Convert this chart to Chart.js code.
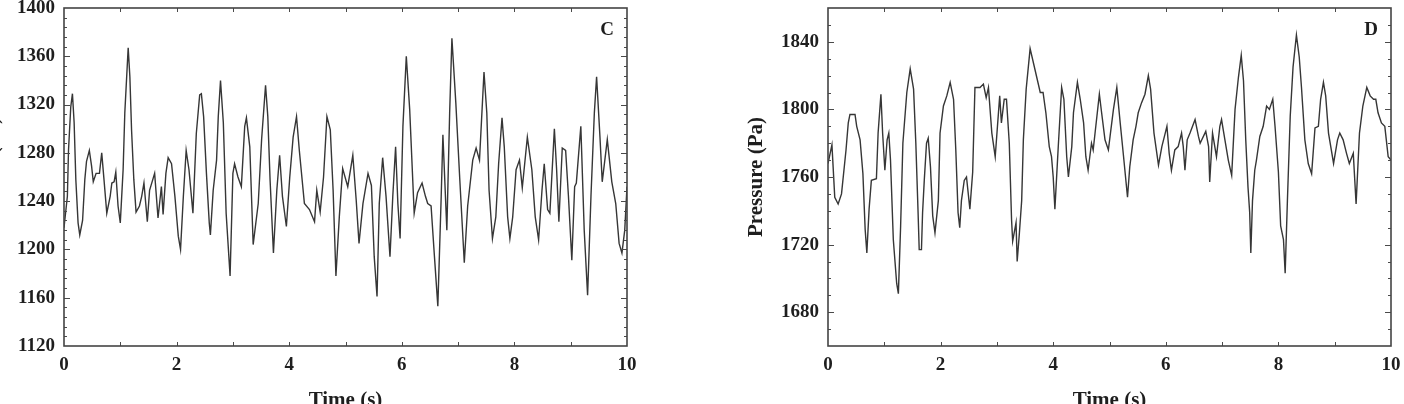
<!DOCTYPE html>
<html>
<head>
<meta charset="utf-8">
<script src="https://cdn.jsdelivr.net/npm/chart.js@4.4.1/dist/chart.umd.min.js"></script>
<style>
  html, body { margin: 0; padding: 0; background: #fff; overflow: hidden; }
  body { width: 1404px; height: 404px; position: relative; }
  .panel { position: absolute; top: 0; width: 702px; height: 404px; }
  #boxC { left: -62px; }
  #boxD { left: 702px; }
</style>
</head>
<body>
<div class="panel" id="boxC"><canvas id="chartC" width="702" height="404"></canvas></div>
<div class="panel" id="boxD"><canvas id="chartD" width="702" height="404"></canvas></div>
<script>
// panel C
const timesC = [0, 0.06, 0.08, 0.12, 0.15, 0.18, 0.21, 0.25, 0.28, 0.33,
  0.37, 0.40, 0.45, 0.49, 0.52, 0.57, 0.63, 0.67, 0.71, 0.76,
  0.82, 0.85, 0.89, 0.92, 0.96, 1.00, 1.05, 1.08, 1.14, 1.17,
  1.20, 1.24, 1.28, 1.34, 1.38, 1.42, 1.48, 1.52, 1.61, 1.67,
  1.73, 1.76, 1.81, 1.85, 1.91, 1.97, 2.03, 2.07, 2.12, 2.17,
  2.22, 2.29, 2.35, 2.41, 2.44, 2.48, 2.53, 2.58, 2.60, 2.65,
  2.71, 2.74, 2.78, 2.83, 2.88, 2.95, 3.00, 3.03, 3.09, 3.15,
  3.21, 3.24, 3.30, 3.36, 3.45, 3.51, 3.58, 3.62, 3.66, 3.72,
  3.78, 3.83, 3.88, 3.95, 4.01, 4.07, 4.13, 4.18, 4.27, 4.36,
  4.45, 4.49, 4.55, 4.61, 4.67, 4.73, 4.78, 4.83, 4.89, 4.95,
  5.04, 5.13, 5.19, 5.24, 5.31, 5.40, 5.46, 5.51, 5.56, 5.60,
  5.66, 5.72, 5.79, 5.84, 5.89, 5.93, 5.97, 6.02, 6.08, 6.14,
  6.22, 6.28, 6.36, 6.42, 6.46, 6.52, 6.58, 6.64, 6.70, 6.73,
  6.80, 6.85, 6.89, 6.96, 7.03, 7.11, 7.17, 7.26, 7.32, 7.38,
  7.46, 7.51, 7.55, 7.61, 7.67, 7.72, 7.78, 7.82, 7.88, 7.92,
  7.97, 8.03, 8.09, 8.14, 8.23, 8.31, 8.37, 8.43, 8.49, 8.53,
  8.59, 8.63, 8.71, 8.75, 8.79, 8.85, 8.91, 8.96, 9.02, 9.07,
  9.10, 9.18, 9.24, 9.30, 9.36, 9.42, 9.46, 9.52, 9.56, 9.65,
  9.73, 9.80, 9.86, 9.91, 9.96, 10.0]
const valuesC = [1218, 1244, 1282, 1318, 1329, 1305, 1258, 1222, 1212, 1224,
  1258, 1273, 1282, 1269, 1256, 1263, 1263, 1280, 1258, 1230,
  1244, 1255, 1256, 1264, 1236, 1222, 1266, 1313, 1367, 1343,
  1299, 1258, 1231, 1236, 1244, 1255, 1223, 1249, 1263, 1226,
  1252, 1229, 1263, 1276, 1271, 1244, 1211, 1200, 1244, 1282,
  1266, 1230, 1296, 1328, 1329, 1310, 1263, 1222, 1212, 1249,
  1274, 1310, 1340, 1305, 1230, 1178, 1263, 1271, 1260, 1252,
  1302, 1309, 1285, 1204, 1238, 1291, 1336, 1310, 1258, 1197,
  1249, 1278, 1244, 1219, 1260, 1293, 1310, 1282, 1238, 1233,
  1223, 1249, 1231, 1260, 1310, 1299, 1249, 1178, 1227, 1267,
  1252, 1278, 1241, 1205, 1238, 1263, 1253, 1194, 1161, 1238,
  1276, 1244, 1194, 1244, 1285, 1238, 1209, 1302, 1360, 1316,
  1230, 1247, 1255, 1244, 1238, 1236, 1194, 1153, 1244, 1295,
  1216, 1313, 1375, 1321, 1258, 1189, 1236, 1274, 1284, 1274,
  1347, 1313, 1249, 1209, 1227, 1271, 1309, 1285, 1227, 1209,
  1227, 1266, 1274, 1251, 1293, 1266, 1227, 1208, 1249, 1271,
  1233, 1230, 1300, 1266, 1223, 1284, 1282, 1244, 1191, 1252,
  1255, 1302, 1216, 1162, 1244, 1313, 1343, 1293, 1256, 1291,
  1256, 1238, 1205, 1197, 1216, 1252]

// panel D
const timesD = [0, 0.07, 0.12, 0.18, 0.24, 0.32, 0.36, 0.39, 0.48, 0.51,
  0.57, 0.62, 0.66, 0.69, 0.73, 0.77, 0.86, 0.89, 0.94, 0.97,
  1.01, 1.05, 1.08, 1.11, 1.16, 1.22, 1.25, 1.29, 1.33, 1.40,
  1.46, 1.52, 1.56, 1.60, 1.62, 1.66, 1.68, 1.71, 1.75, 1.78,
  1.82, 1.86, 1.90, 1.96, 1.99, 2.05, 2.11, 2.17, 2.23, 2.27,
  2.31, 2.34, 2.37, 2.42, 2.46, 2.52, 2.57, 2.61, 2.70, 2.76,
  2.81, 2.85, 2.91, 2.97, 3.01, 3.05, 3.08, 3.13, 3.17, 3.22,
  3.26, 3.28, 3.34, 3.36, 3.40, 3.44, 3.47, 3.52, 3.59, 3.68,
  3.77, 3.82, 3.87, 3.93, 3.97, 4.00, 4.03, 4.09, 4.15, 4.19,
  4.24, 4.27, 4.33, 4.36, 4.43, 4.48, 4.54, 4.58, 4.62, 4.68,
  4.71, 4.77, 4.82, 4.86, 4.92, 4.98, 5.01, 5.07, 5.13, 5.19,
  5.25, 5.32, 5.36, 5.42, 5.47, 5.51, 5.57, 5.63, 5.69, 5.73,
  5.79, 5.87, 5.93, 5.99, 6.02, 6.06, 6.10, 6.16, 6.22, 6.28,
  6.31, 6.34, 6.38, 6.43, 6.52, 6.58, 6.61, 6.71, 6.76, 6.78,
  6.83, 6.90, 6.96, 6.99, 7.05, 7.11, 7.17, 7.23, 7.29, 7.34,
  7.38, 7.42, 7.46, 7.49, 7.51, 7.54, 7.58, 7.61, 7.67, 7.73,
  7.79, 7.84, 7.90, 7.94, 8.00, 8.04, 8.09, 8.12, 8.16, 8.21,
  8.26, 8.32, 8.37, 8.41, 8.47, 8.53, 8.59, 8.65, 8.71, 8.75,
  8.80, 8.84, 8.89, 8.98, 9.05, 9.09, 9.15, 9.21, 9.26, 9.33,
  9.38, 9.44, 9.50, 9.57, 9.63, 9.69, 9.73, 9.77, 9.83, 9.89,
  9.95, 10.0]
const valuesD = [1768, 1779, 1748, 1744, 1750, 1776, 1792, 1797, 1797, 1790,
  1782, 1762, 1729, 1715, 1741, 1758, 1759, 1786, 1809, 1786,
  1764, 1782, 1786, 1770, 1723, 1697, 1691, 1731, 1780, 1810,
  1824, 1812, 1780, 1739, 1717, 1717, 1739, 1758, 1780, 1783,
  1766, 1737, 1727, 1746, 1786, 1802, 1808, 1816, 1806, 1776,
  1739, 1730, 1746, 1758, 1760, 1741, 1763, 1813, 1813, 1815,
  1807, 1813, 1786, 1772, 1790, 1808, 1792, 1806, 1806, 1780,
  1735, 1722, 1733, 1710, 1727, 1746, 1782, 1812, 1836, 1823,
  1810, 1810, 1798, 1778, 1772, 1760, 1741, 1778, 1813, 1806,
  1772, 1760, 1778, 1798, 1816, 1806, 1792, 1772, 1764, 1780,
  1776, 1794, 1809, 1798, 1782, 1776, 1784, 1800, 1813, 1792,
  1772, 1748, 1766, 1782, 1790, 1798, 1804, 1809, 1820, 1812,
  1786, 1767, 1778, 1786, 1790, 1774, 1764, 1776, 1778, 1786,
  1778, 1764, 1782, 1786, 1794, 1784, 1780, 1787, 1778, 1757,
  1786, 1772, 1790, 1794, 1782, 1770, 1761, 1800, 1819, 1832,
  1817, 1782, 1754, 1739, 1715, 1746, 1764, 1770, 1784, 1790,
  1802, 1800, 1806, 1790, 1763, 1731, 1723, 1703, 1746, 1796,
  1825, 1844, 1831, 1813, 1782, 1768, 1762, 1789, 1790, 1806,
  1816, 1808, 1786, 1768, 1782, 1786, 1782, 1774, 1768, 1774,
  1744, 1786, 1802, 1813, 1808, 1806, 1806, 1798, 1792, 1790,
  1772, 1770]

// tick labels
const xTicks = [0, 2, 4, 6, 8, 10]
const yTicksC = [1120, 1160, 1200, 1240, 1280, 1320, 1360, 1400]
const yTicksD = [1680, 1720, 1760, 1800, 1840]

const serif = 'Liberation Serif, Times New Roman, serif'
const ink = '#1e1e1e'

// box round the plot + inward tick marks (like the original figure)
const framePlugin = {
  id: 'frame',
  afterDatasetsDraw(chart, args, opts) {
    const ctx = chart.ctx
    const a = chart.chartArea
    const xs = chart.scales.x
    const ys = chart.scales.y
    ctx.save()
    ctx.strokeStyle = '#4a4a4a'
    ctx.lineWidth = 1
    // x ticks every 1 s, top and bottom
    for (let v = 1; v < 10; v++) {
      const px = Math.round(xs.getPixelForValue(v)) + 0.5
      ctx.beginPath()
      ctx.moveTo(px, a.bottom); ctx.lineTo(px, a.bottom - 4)
      ctx.moveTo(px, a.top); ctx.lineTo(px, a.top + 4)
      ctx.stroke()
    }
    // y ticks, left and right
    for (let v = ys.min + opts.minorStep; v < ys.max; v += opts.minorStep) {
      const py = Math.round(ys.getPixelForValue(v)) + 0.5
      const len = opts.major.includes(v) ? 6 : 3
      ctx.beginPath()
      ctx.moveTo(a.left, py); ctx.lineTo(a.left + len, py)
      ctx.moveTo(a.right, py); ctx.lineTo(a.right - len, py)
      ctx.stroke()
    }
    ctx.lineWidth = 1.6
    ctx.strokeStyle = '#444'
    ctx.strokeRect(a.left, a.top, a.right - a.left, a.bottom - a.top)
    // panel letter
    ctx.fillStyle = ink
    ctx.font = 'bold 19px ' + serif
    ctx.textAlign = 'right'
    ctx.textBaseline = 'middle'
    ctx.fillText(opts.letter, a.right - 13, a.top + 22)
    ctx.restore()
  }
}

function makeChart(id, times, values, yMin, yMax, yTicks, letter, minorStep) {
  const pts = times.map((t, i) => ({ x: t, y: values[i] }))
  return new Chart(document.getElementById(id), {
    type: 'line',
    data: {
      datasets: [{
        data: pts,
        borderColor: '#363636',
        borderWidth: 1.4,
        pointRadius: 0,
        tension: 0,
        fill: false
      }]
    },
    options: {
      responsive: false,
      animation: false,
      devicePixelRatio: 1,
      layout: { padding: { left: 0, right: 13, top: 8, bottom: 0 } },
      plugins: {
        legend: { display: false },
        tooltip: { enabled: false },
        frame: { letter: letter, minorStep: minorStep, major: yTicks }
      },
      scales: {
        x: {
          type: 'linear',
          min: 0,
          max: 10,
          afterBuildTicks: s => { s.ticks = xTicks.map(v => ({ value: v })) },
          afterFit: s => { s.height = 58; s.paddingLeft = 0; s.paddingRight = 0 },
          grid: { display: false, drawTicks: false },
          border: { display: false },
          ticks: {
            color: ink,
            padding: 8,
            maxRotation: 0,
            autoSkip: false,
            callback: v => String(v),
            font: { family: serif, size: 19, weight: 'bold' }
          },
          title: {
            display: true,
            text: 'Time (s)',
            color: ink,
            padding: { top: 0, bottom: -7 },
            font: { family: serif, size: 21, weight: 'bold', lineHeight: 1 }
          }
        },
        y: {
          min: yMin,
          max: yMax,
          afterBuildTicks: s => { s.ticks = yTicks.map(v => ({ value: v })) },
          afterFit: s => { s.width = 126; s.paddingTop = 0; s.paddingBottom = 0 },
          grid: { display: false, drawTicks: false },
          border: { display: false },
          ticks: {
            color: ink,
            padding: 9,
            callback: v => String(v),
            font: { family: serif, size: 19, weight: 'bold' }
          },
          title: {
            display: true,
            text: 'Pressure (Pa)',
            color: ink,
            padding: { top: 44, bottom: 0 },
            font: { family: serif, size: 21, weight: 'bold', lineHeight: 1 }
          }
        }
      }
    },
    plugins: [framePlugin]
  })
}

makeChart('chartC', timesC, valuesC, 1120, 1400, yTicksC, 'C', 8)
makeChart('chartD', timesD, valuesD, 1660, 1860, yTicksD, 'D', 10)
</script>
</body>
</html>
